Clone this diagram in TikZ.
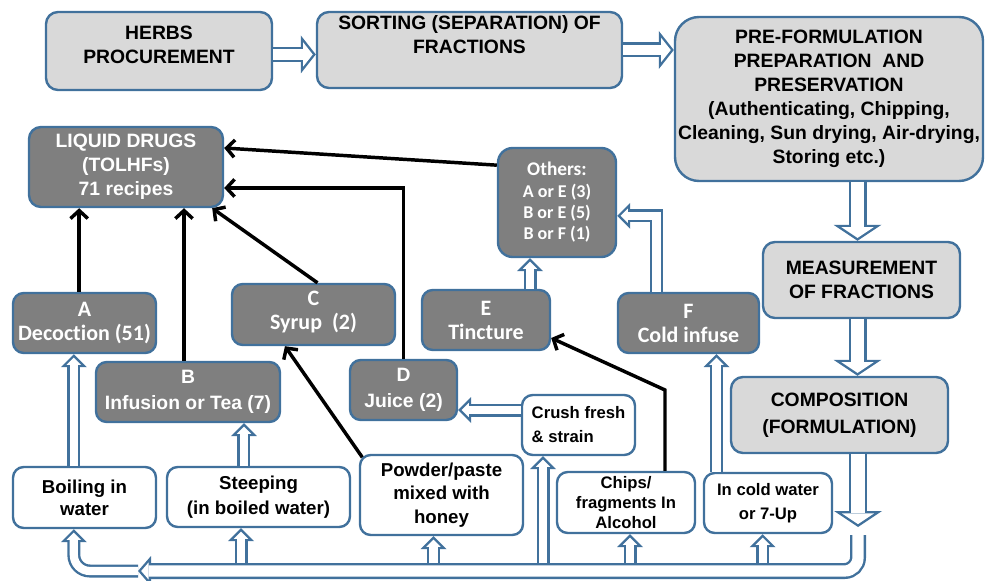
\documentclass[tikz,border=0pt]{standalone}
\usepackage{fontspec}
\setmainfont{Liberation Sans}
\newfontfamily\calib[Ligatures=NoCommon]{Carlito}
\usetikzlibrary{arrows.meta}
\definecolor{edgeblue}{RGB}{65,113,156}
\definecolor{lightgrey}{RGB}{217,217,217}
\definecolor{darkgrey}{RGB}{127,127,127}
\newcommand\txtup[1]{\rule[-#1]{0pt}{#1}}
\begin{document}
\begin{tikzpicture}[x=0.75pt,y=-0.75pt,>={Straight Barb[length=6pt,width=13pt]},
  box/.style={draw=edgeblue,line width=1.8pt,rounded corners=8pt,align=center,inner sep=0pt,
    minimum height=45pt,font=\bfseries\fontsize{14.5}{18}\selectfont},
  stage/.style={box,fill=lightgrey,rounded corners=9pt,minimum height=57pt},
  drug/.style={box,fill=darkgrey,text=white},
  cdrug/.style={drug,font=\calib\bfseries\fontsize{16.5}{18}\selectfont},
  method/.style={box,fill=white,font=\bfseries\fontsize{14}{17.5}\selectfont},
  smethod/.style={box,fill=white,font=\bfseries\fontsize{12.5}{18}\selectfont},
  flow/.style={->,line width=2.6pt},
  smallarr/.style={draw=edgeblue,line width=9.75pt,-{Triangle[width=19.5pt,length=9.75pt,line width=0pt]},
    postaction={draw=white,line width=6.15pt,shorten >=2.55pt,-{Triangle[width=10.8pt,length=5.4pt,line width=0pt]}}},
  midarr/.style={draw=edgeblue,line width=11.25pt,-{Triangle[width=28.5pt,length=11.25pt,line width=0pt]},
    postaction={draw=white,line width=7.65pt,shorten >=2.29pt,-{Triangle[width=18.14pt,length=7.16pt,line width=0pt]}}},
  bigarr/.style={draw=edgeblue,line width=13.5pt,-{Triangle[width=36pt,length=12pt,line width=0pt]},
    postaction={draw=white,line width=9.9pt,shorten >=2.16pt,-{Triangle[width=24.12pt,length=8.04pt,line width=0pt]}}},
  busarr/.style={draw=edgeblue,line width=12pt,-{Triangle[width=22.5pt,length=9.75pt,line width=0pt]},
    postaction={draw=white,line width=8.4pt,shorten >=2.38pt,-{Triangle[width=12.86pt,length=5.57pt,line width=0pt]}}}]
\useasboundingbox (0,0) rectangle (985,581);
\node[stage,minimum width=169.5pt,minimum height=58.5pt] (herbs) at (159,51) {HERBS\\PROCUREMENT\txtup{10pt}};
\node[stage,minimum width=228.75pt] (sort) at (469.5,50) {SORTING (SEPARATION) OF\\FRACTIONS\txtup{24pt}};
\node[stage,minimum width=231pt,minimum height=123pt,rounded corners=18pt] (pre) at (829,99)
  {PRE-FORMULATION\\PREPARATION~ AND\\PRESERVATION\\(Authenticating, Chipping,\\Cleaning, Sun drying, Air-drying,\\Storing etc.)};
\node[stage,minimum width=147.75pt] (meas) at (861.5,280) {MEASUREMENT\\OF FRACTIONS};
\node[stage,minimum width=162.75pt,font=\bfseries\fontsize{14.5}{20}\selectfont] (comp) at (839.5,415) {COMPOSITION\\(FORMULATION)};
\node[drug,minimum width=145.5pt,minimum height=60pt,rounded corners=9pt] (liquid) at (126,167) {LIQUID DRUGS\\(TOLHFs)\\71 recipes};
\node[drug,minimum width=88.5pt,minimum height=81.75pt,rounded corners=11pt,font=\calib\bfseries\fontsize{13.5}{16}\selectfont] (others) at (557,202.5)
  {{\fontsize{14.5}{16}\selectfont Others:}\\A or E (3)\\B or E (5)\\B or F (1)};
\node[cdrug,minimum width=107.25pt] (A) at (84.5,323) {A\\Decoction (51)};
\node[cdrug,minimum width=122.25pt,minimum height=45.75pt] (C) at (313.5,314.5) {C\\Syrup~ (2)\txtup{7pt}};
\node[cdrug,minimum width=96pt] (E) at (486,320) {E\\Tincture};
\node[cdrug,minimum width=105.75pt] (F) at (688.5,323) {F\\Cold infuse};
\node[drug,minimum width=138pt,font=\bfseries\fontsize{14.5}{19}\selectfont] (B) at (188,392) {B\\Infusion or Tea (7)};
\node[drug,minimum width=80.25pt,font=\bfseries\fontsize{14.5}{19}\selectfont] (D) at (403.5,390) {D\\Juice (2)};
\node[smethod,minimum width=84.75pt,align=left] (crush) at (578.5,425) {Crush fresh\\\& strain};
\node[method,minimum width=107.25pt,minimum height=45.75pt,font=\bfseries\fontsize{14}{16.5}\selectfont] (boil) at (84.5,497.5) {Boiling in\\water};
\node[method,minimum width=137.25pt,font=\bfseries\fontsize{14}{18.5}\selectfont] (steep) at (258.5,497) {Steeping\\(in boiled water)};
\node[method,minimum width=122.25pt,minimum height=60pt] (powder) at (441.5,495) {Powder/paste\\mixed with\\honey};
\node[smethod,minimum width=103.5pt,minimum height=45.75pt,font=\bfseries\fontsize{12.5}{15}\selectfont] (chips) at (626,502.5) {Chips/\\fragments In\\Alcohol};
\node[smethod,minimum width=96pt] (cold) at (768,503) {In cold water\\or 7-Up};
\coordinate (busR) at (858,535);
\coordinate (busL) at (138,571);
\coordinate (bustop) at (0,563);
\draw[midarr] ([yshift=-2.6pt]herbs.east) -- ([yshift=-2.6pt]herbs.east -| sort.west);
\draw[midarr] (sort.east) -- (sort.east -| pre.west);
\draw[bigarr] ([xshift=-3pt]meas.north |- pre.south) -- ([xshift=-3pt]meas.north);
\draw[bigarr] ([xshift=-3pt]meas.south) -- ([xshift=-3pt]meas.south |- comp.north);
\draw[bigarr] (comp.south -| busR) -- ([yshift=6pt]busR);
\draw[busarr,rounded corners=10pt] (busR) |- (busL);
\draw[smallarr,rounded corners=12pt] (busL) -| ([xshift=-8pt]boil.south);
\draw[smallarr] ([xshift=-8pt]boil.north) -- ([xshift=-8pt]A.south);
\draw[smallarr] ([xshift=-10.9pt]steep.north) -- ([xshift=-10.9pt]steep.north |- B.south);
\foreach \n/\dx in {steep/-13.1pt,powder/-6pt,crush/-26.6pt,chips/3pt,cold/-4pt}
  \draw[smallarr] ([xshift=\dx]\n.south |- bustop) -- ([xshift=\dx]\n.south);
\draw[smallarr] ([xshift=-38.6pt]cold.north) -- ([xshift=-38.6pt]cold.north |- F.south);
\draw[smallarr] ([xshift=-24pt]F.north) |- ([yshift=-10pt]others.east);
\draw[smallarr] ([xshift=33pt]E.north) -- ([xshift=33pt]E.north |- others.south);
\draw[smallarr] ([yshift=11.25pt]crush.west) -- ([yshift=11.25pt]crush.west -| D.east);
\draw[flow] ([xshift=-4pt]A.north) -- ([xshift=-4pt]A.north |- liquid.south);
\draw[flow] ([xshift=-3pt]B.north) -- ([xshift=-3pt]B.north |- liquid.south);
\draw[flow] ([xshift=3pt]C.north) -- ([xshift=-9pt]liquid.south east);
\draw[flow] (D.north) |- ([yshift=-15.75pt]liquid.east);
\draw[flow] ([yshift=28pt]others.west) -- ([yshift=14.25pt]liquid.east);
\draw[flow] ([xshift=2.6pt,yshift=-2.6pt]powder.north west) -- ([xshift=-21.4pt]C.south);
\draw[flow] ([xshift=29.25pt]chips.north) -- ([xshift=29.25pt]chips.north |- D.east) -- ([yshift=-13.5pt]E.east);
\end{tikzpicture}
\end{document}
